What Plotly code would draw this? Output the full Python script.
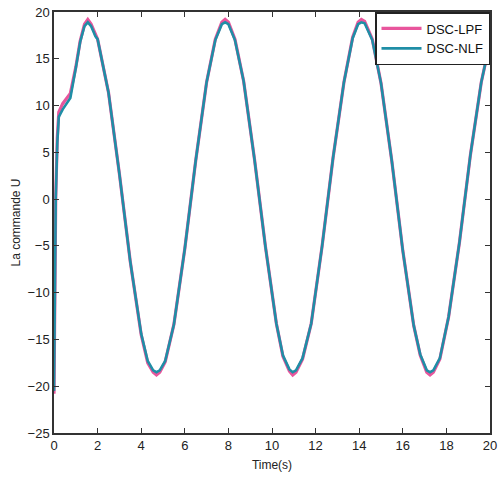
import plotly.graph_objects as go

# Time samples (s)
t = [0.0, 0.03, 0.08, 0.15, 0.22, 0.4, 0.6, 0.75, 1.0, 1.2, 1.4, 1.55, 1.7, 1.9,
     2.0, 2.5, 3.0, 3.5, 4.0, 4.3, 4.55, 4.7, 4.85, 5.1, 5.5, 6.0, 6.5, 7.0, 7.4,
     7.7, 7.85, 8.0, 8.3, 8.7, 9.2, 9.7, 10.2, 10.5, 10.8, 10.95, 11.1, 11.4, 11.8,
     12.3, 12.8, 13.3, 13.7, 13.95, 14.1, 14.25, 14.6, 15.0, 15.5, 16.0, 16.5, 16.8,
     17.1, 17.25, 17.4, 17.7, 18.1, 18.6, 19.1, 19.6, 20.0]

# DSC-NLF control signal
u_nlf = [-20.5, -12.0, 0.0, 6.0, 8.8, 9.6, 10.3, 10.8, 14.0, 16.8, 18.5, 18.9, 18.5, 17.4,
         17.1, 11.4, 2.7, -6.7, -14.4, -17.3, -18.3, -18.5, -18.3, -17.3, -13.4, -5.3, 4.1,
         12.5, 17.0, 18.7, 18.9, 18.7, 17.0, 12.6, 4.2, -5.1, -13.3, -16.7, -18.2, -18.5,
         -18.3, -17.0, -13.3, -5.0, 4.4, 12.5, 17.2, 18.7, 18.9, 18.8, 17.0, 12.4, 4.0, -5.5,
         -13.5, -16.6, -18.3, -18.5, -18.3, -17.0, -12.6, -4.6, 4.7, 12.5, 16.8]

# DSC-LPF control signal
u_lpf = [-20.8, -12.0, 0.3, 6.5, 9.3, 10.2, 10.9, 11.3, 14.1, 16.9, 18.7, 19.2, 18.7, 17.5,
         17.1, 11.4, 2.7, -6.7, -14.5, -17.5, -18.5, -18.8, -18.5, -17.4, -13.4, -5.3, 4.1,
         12.5, 17.1, 18.9, 19.2, 18.9, 17.1, 12.6, 4.2, -5.1, -13.3, -16.8, -18.4, -18.8,
         -18.5, -17.1, -13.3, -5.0, 4.4, 12.5, 17.3, 18.9, 19.2, 19.0, 17.1, 12.4, 4.0, -5.5,
         -13.5, -16.7, -18.5, -18.8, -18.5, -17.1, -12.6, -4.6, 4.7, 12.5, 16.8]

x_ticks = [0, 2, 4, 6, 8, 10, 12, 14, 16, 18, 20]
y_ticks = [-25, -20, -15, -10, -5, 0, 5, 10, 15, 20]

fig = go.Figure()
fig.add_trace(go.Scatter(x=t, y=u_lpf, mode="lines", name="DSC-LPF",
                         line=dict(color="#E8559C", width=3.2)))
fig.add_trace(go.Scatter(x=t, y=u_nlf, mode="lines", name="DSC-NLF",
                         line=dict(color="#1F8EA6", width=2.6)))

axis_common = dict(showgrid=False, zeroline=False, showline=True, linecolor="#333333",
                   linewidth=1.5, mirror="ticks", ticks="inside", ticklen=5,
                   tickcolor="#333333", tickfont=dict(size=13, color="#222222"),
                   automargin=False)

fig.update_xaxes(range=[0, 20], tickvals=x_ticks,
                 title=dict(text="Time(s)", font=dict(size=12, color="#222222"), standoff=8),
                 **axis_common)
fig.update_yaxes(range=[-25, 20], tickvals=y_ticks,
                 title=dict(text="La commande U", font=dict(size=12, color="#222222"), standoff=4),
                 **axis_common)

fig.update_layout(
    width=498, height=481,
    margin=dict(l=54, r=8, t=12, b=48),
    plot_bgcolor="white", paper_bgcolor="white",
    font=dict(family="Liberation Sans, Arial, sans-serif"),
    legend=dict(x=1, y=1, xanchor="right", yanchor="top",
                bordercolor="#222222", borderwidth=1.5, bgcolor="white",
                font=dict(size=13, color="#111111"), itemwidth=40,
                tracegroupgap=2),
    showlegend=True,
)

fig.write_html("out.html")
